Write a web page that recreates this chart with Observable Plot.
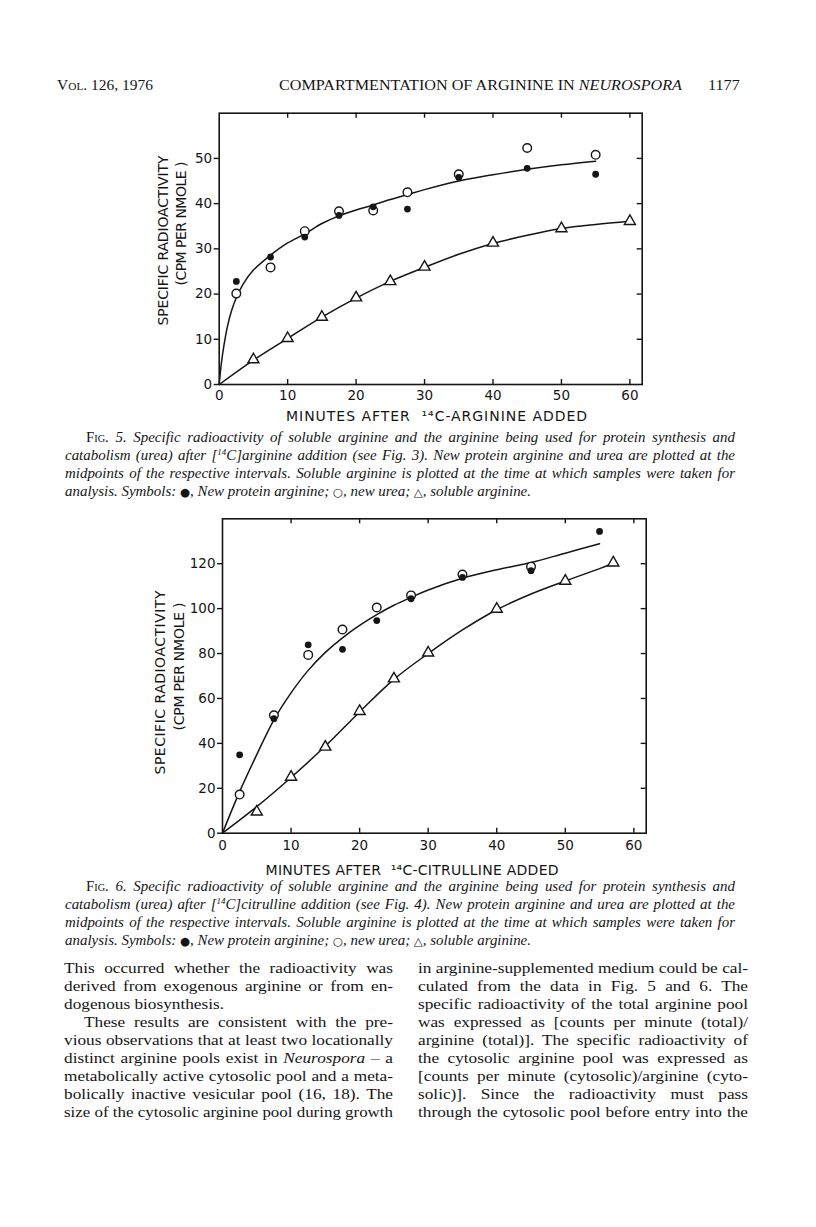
<!DOCTYPE html>
<html><head><meta charset="utf-8">
<script src="https://cdn.jsdelivr.net/npm/d3@7"></script>
<script src="https://cdn.jsdelivr.net/npm/@observablehq/plot@0.6"></script>
<style>
html,body{margin:0;padding:0;background:#fff;}
#page{position:relative;width:816px;height:1227px;overflow:hidden;background:#fff;color:#151515;font-family:"Liberation Serif","Times New Roman",serif;}
.ln{position:absolute;white-space:nowrap;line-height:18px;transform-origin:0 0;}
.sc{font-variant:small-caps;font-style:normal;}
.cap{font-style:italic;font-size:14.5px;}
.body{font-size:15px;}
.hdr{font-size:15px;}
.sym{font-family:"DejaVu Sans",sans-serif;font-style:normal;font-size:0.78em;}
.fig{position:absolute;}
sup{font-size:0.6em;vertical-align:0.55em;line-height:0;}
</style></head><body><div id="page"></div>
<script>
// ---------------- data ----------------
// Fig. 5 — [14C]arginine
const fig5Minutes = [2.5, 7.5, 12.5, 17.5, 22.5, 27.5, 35, 45, 55];
const fig5ProteinArginine = [22.8, 28.2, 32.6, 37.4, 39.3, 38.8, 45.8, 47.8, 46.5];
const fig5Urea = [20.1, 25.9, 33.9, 38.3, 38.5, 42.5, 46.5, 52.3, 50.8];
const fig5SolubleMinutes = [5, 10, 15, 20, 25, 30, 40, 50, 60];
const fig5SolubleArginine = [5.5, 10.2, 14.9, 19.2, 22.8, 26.0, 31.3, 34.5, 36.1];
const fig5CurveMinutes = [0, 0.3, 0.7, 1.2, 1.8, 2.5, 3.5, 5, 7.5, 10, 12.5, 15, 17.5, 20, 22.5, 25, 27.5, 30, 35, 40, 45, 50, 55];
const fig5CurveValues = [0, 4.5, 8.7, 12.8, 16.3, 19.2, 22.2, 25.3, 28.6, 31.3, 33.3, 35.6, 37.3, 38.6, 39.7, 40.9, 42.0, 43.1, 45.0, 46.4, 47.6, 48.6, 49.4];
const fig5SolCurveMinutes = [0, 5, 10, 15, 20, 25, 30, 35, 40, 45, 50, 55, 60];
const fig5SolCurveValues = [0, 5.4, 10.2, 14.9, 19.1, 22.8, 25.9, 28.8, 31.2, 33.0, 34.5, 35.4, 36.1];
const fig5XTicks = [0, 10, 20, 30, 40, 50, 60];
const fig5YTicks = [0, 10, 20, 30, 40, 50];

// Fig. 6 — [14C]citrulline
const fig6Minutes = [2.5, 7.5, 12.5, 17.5, 22.5, 27.5, 35, 45, 55];
const fig6ProteinArginine = [34.9, 51, 83.9, 81.9, 94.7, 104.4, 113.9, 116.9, 134.4];
const fig6UreaMinutes = [2.5, 7.5, 12.5, 17.5, 22.5, 27.5, 35, 45];
const fig6Urea = [17.2, 52.5, 79.4, 90.7, 100.5, 105.9, 115.2, 118.7];
const fig6SolubleMinutes = [5, 10, 15, 20, 25, 30, 40, 50, 57];
const fig6SolubleArginine = [9.5, 25, 38.4, 54.3, 68.8, 80.3, 99.8, 112.3, 120.4];
const fig6CurveMinutes = [0, 2.5, 5, 7.5, 10, 12.5, 15, 17.5, 20, 22.5, 25, 27.5, 30, 35, 40, 45, 50, 55];
const fig6CurveValues = [0, 18.5, 35, 50.5, 62.5, 72.5, 80.5, 87, 92.5, 97.3, 101.5, 105, 108.3, 113.5, 117.3, 120.5, 124.7, 128.9];
const fig6SolCurveMinutes = [0, 5, 10, 15, 20, 25, 30, 35, 40, 45, 50, 55, 57];
const fig6SolCurveValues = [0, 11.8, 24.8, 38.8, 54, 68.5, 80, 90.5, 99.5, 106.5, 112.3, 117.8, 120.2];
const fig6XTicks = [0, 10, 20, 30, 40, 50, 60];
const fig6YTicks = [0, 20, 40, 60, 80, 100, 120];

const yTitle1 = "SPECIFIC RADIOACTIVITY";
const yTitle2 = "(CPM PER NMOLE )";
const fig5XTitle = "MINUTES AFTER  \u00B9\u2074C-ARGININE ADDED";
const fig6XTitle = "MINUTES AFTER  \u00B9\u2074C-CITRULLINE ADDED";

// ---------------- page text ----------------
const headerLeft = 'V<span class="sc">ol</span>. 126, 1976';
const headerTitle = 'COMPARTMENTATION OF ARGININE IN <i>NEUROSPORA</i>';
const headerPage = '1177';
const symbolsLine = 'analysis. Symbols: <span class="sym">\u25CF</span>, New protein arginine; <span class="sym">\u25CB</span>, new urea; <span class="sym">\u25B3</span>, soluble arginine.';
const fig5Caption = [
  '<span class="sc">Fig</span>. 5. Specific radioactivity of soluble arginine and the arginine being used for protein synthesis and',
  'catabolism (urea) after [<sup>14</sup>C]arginine addition (see Fig. 3). New protein arginine and urea are plotted at the',
  'midpoints of the respective intervals. Soluble arginine is plotted at the time at which samples were taken for',
  symbolsLine
];
const fig6Caption = [
  '<span class="sc">Fig</span>. 6. Specific radioactivity of soluble arginine and the arginine being used for protein synthesis and',
  'catabolism (urea) after [<sup>14</sup>C]citrulline addition (see Fig. 4). New protein arginine and urea are plotted at the',
  'midpoints of the respective intervals. Soluble arginine is plotted at the time at which samples were taken for',
  symbolsLine
];
const leftColumn = [
  'This occurred whether the radioactivity was',
  'derived from exogenous arginine or from en-',
  'dogenous biosynthesis.',
  'These results are consistent with the pre-',
  'vious observations that at least two locationally',
  'distinct arginine pools exist in <i>Neurospora</i> \u2013 a',
  'metabolically active cytosolic pool and a meta-',
  'bolically inactive vesicular pool (16, 18). The',
  'size of the cytosolic arginine pool during growth'
];
const rightColumn = [
  'in arginine-supplemented medium could be cal-',
  'culated from the data in Fig. 5 and 6. The',
  'specific radioactivity of the total arginine pool',
  'was expressed as [counts per minute (total)/',
  'arginine (total)]. The specific radioactivity of',
  'the cytosolic arginine pool was expressed as',
  '[counts per minute (cytosolic)/arginine (cyto-',
  'solic)]. Since the radioactivity must pass',
  'through the cytosolic pool before entry into the'
];

// ---------------- helpers ----------------
const page = document.getElementById("page");
const ink = "#151515";

function addLine(html, cls, x, y, width, justify, base) {
  const d = document.createElement("div");
  d.className = "ln " + cls;
  d.style.left = x + "px";
  d.style.top = y + "px";
  d.innerHTML = html;
  page.appendChild(d);
  const w = d.getBoundingClientRect().width;
  let s = base || 1;
  if (width != null && w * s > width) s = width / w;
  if (width != null && justify) {
    const n = (d.textContent.match(/ /g) || []).length;
    const extra = width / s - w;
    if (n > 0 && extra > 0) d.style.wordSpacing = (extra / n) + "px";
  }
  if (s !== 1) d.style.transform = `scaleX(${s})`;
  return d;
}

function rows(xs, ys) { return xs.map((m, i) => ({m, v: ys[i]})); }

function makeFig(c) {
  const iw = c.width - c.ml - c.mr;
  const ih = c.height - c.mt - c.mb;
  const inner = c.xTicks.filter(t => t > 0);
  const innerY = c.yTicks.filter(t => t > 0);
  const svg = Plot.plot({
    width: c.width, height: c.height,
    marginLeft: c.ml, marginRight: c.mr, marginTop: c.mt, marginBottom: c.mb,
    style: {fontFamily: "'DejaVu Sans', sans-serif", fontSize: "13.5px", color: ink, background: "transparent", overflow: "visible"},
    x: {domain: [0, c.xMax], label: null},
    y: {domain: [0, c.yMax], label: null},
    marks: [
      Plot.axisX({ticks: c.xTicks, anchor: "bottom", tickSize: 0, tickPadding: c.xPad, label: null, fontSize: 13.5}),
      Plot.axisY({ticks: c.yTicks, anchor: "left", tickSize: 5, tickPadding: 2, label: null, fontSize: 13.5, strokeWidth: 1.4}),
      Plot.tickX(inner, {x: d => d, insetTop: ih - 5, stroke: ink, strokeWidth: 1.4}),
      Plot.tickX(inner, {x: d => d, insetBottom: ih - 5, stroke: ink, strokeWidth: 1.4}),
      Plot.tickY(innerY, {y: d => d, insetLeft: iw - 5, stroke: ink, strokeWidth: 1.4}),
      Plot.frame({stroke: ink, strokeWidth: 1.6}),
      Plot.text([yTitle1], {text: d => d, frameAnchor: "left", textAnchor: "middle", lineAnchor: "middle", rotate: -90, dx: c.t1dx, dy: c.t1dy, fontSize: 14, fill: ink}),
      Plot.text([yTitle2], {text: d => d, frameAnchor: "left", textAnchor: "middle", lineAnchor: "middle", rotate: -90, dx: c.t2dx, dy: c.t2dy, fontSize: 14, fill: ink}),
      Plot.text([c.xTitle], {text: d => d, frameAnchor: "bottom", textAnchor: "middle", lineAnchor: "middle", dx: c.xtdx, dy: c.xtdy, fontSize: 14, fill: ink}),
      Plot.line(rows(c.curveX, c.curveY), {x: "m", y: "v", curve: "catmull-rom", stroke: ink, strokeWidth: 1.5}),
      Plot.line(rows(c.solCurveX, c.solCurveY), {x: "m", y: "v", curve: "catmull-rom", stroke: ink, strokeWidth: 1.5}),
      Plot.dot(rows(c.solX, c.solY), {x: "m", y: "v", symbol: "triangle", r: 4.1, fill: "white", stroke: ink, strokeWidth: 1.4}),
      Plot.dot(rows(c.ureaX, c.ureaY), {x: "m", y: "v", r: 4.3, fill: "white", stroke: ink, strokeWidth: 1.4}),
      Plot.dot(rows(c.protX, c.protY), {x: "m", y: "v", r: 3.4, fill: ink, stroke: "none"})
    ]
  });
  svg.classList.add("fig");
  svg.style.left = c.left + "px";
  svg.style.top = c.top + "px";
  page.appendChild(svg);
  svg.querySelectorAll("text").forEach(t => {
    const L = c.lengths[t.textContent];
    if (L) { t.setAttribute("textLength", L); t.setAttribute("lengthAdjust", "spacing"); }
  });
  return svg;
}

// ---------------- header ----------------
addLine(headerLeft, "hdr", 57, 76, 96, true, 1.08);
addLine(headerTitle, "hdr", 279, 76, 403, true, 1.08);
addLine(headerPage, "hdr", 708, 76, 35, false, 1.08);

// ---------------- figures ----------------
makeFig({
  left: 140, top: 100, width: 520, height: 340,
  ml: 78.7, mr: 18.3, mt: 12.7, mb: 56,
  xMax: 61.8, yMax: 60, xTicks: fig5XTicks, yTicks: fig5YTicks, xPad: 6,
  t1dx: -55.7, t1dy: -8.3, t2dx: -37.7, t2dy: -25.3, xtdx: 5.8, xtdy: 32,
  xTitle: fig5XTitle,
  lengths: {[yTitle1]: 170, [yTitle2]: 124, [fig5XTitle]: 301},
  protX: fig5Minutes, protY: fig5ProteinArginine,
  ureaX: fig5Minutes, ureaY: fig5Urea,
  solX: fig5SolubleMinutes, solY: fig5SolubleArginine,
  curveX: fig5CurveMinutes, curveY: fig5CurveValues,
  solCurveX: fig5SolCurveMinutes, solCurveY: fig5SolCurveValues
});
makeFig({
  left: 140, top: 500, width: 520, height: 380,
  ml: 82, mr: 14.3, mt: 18.3, mb: 47.3,
  xMax: 61.8, yMax: 140, xTicks: fig6XTicks, yTicks: fig6YTicks, xPad: 7.5,
  t1dx: -61.7, t1dy: 6.5, t2dx: -43, t2dy: -9.5, xtdx: -22.3, xtdy: 37.3,
  xTitle: fig6XTitle,
  lengths: {[yTitle1]: 184, [yTitle2]: 128, [fig6XTitle]: 293},
  protX: fig6Minutes, protY: fig6ProteinArginine,
  ureaX: fig6UreaMinutes, ureaY: fig6Urea,
  solX: fig6SolubleMinutes, solY: fig6SolubleArginine,
  curveX: fig6CurveMinutes, curveY: fig6CurveValues,
  solCurveX: fig6SolCurveMinutes, solCurveY: fig6SolCurveValues
});

// ---------------- captions ----------------
function caption(lines, top) {
  lines.forEach((h, i) => {
    const x = i === 0 ? 86 : 65;
    const last = i === lines.length - 1;
    addLine(h, "cap", x, top + 18 * i, 735 - x, !last, 1.03);
  });
}
caption(fig5Caption, 428);
caption(fig6Caption, 877);

// ---------------- body text ----------------
const paraEnds = new Set([2]);
leftColumn.forEach((h, i) => {
  const indent = i === 3 ? 20 : 0;
  const last = paraEnds.has(i);
  addLine(h, "body", 64 + indent, 959 + 18 * i, 329 - indent, !last, 1.15);
});
rightColumn.forEach((h, i) => {
  addLine(h, "body", 418, 959 + 18 * i, 330, true, 1.15);
});
</script>
</body></html>
